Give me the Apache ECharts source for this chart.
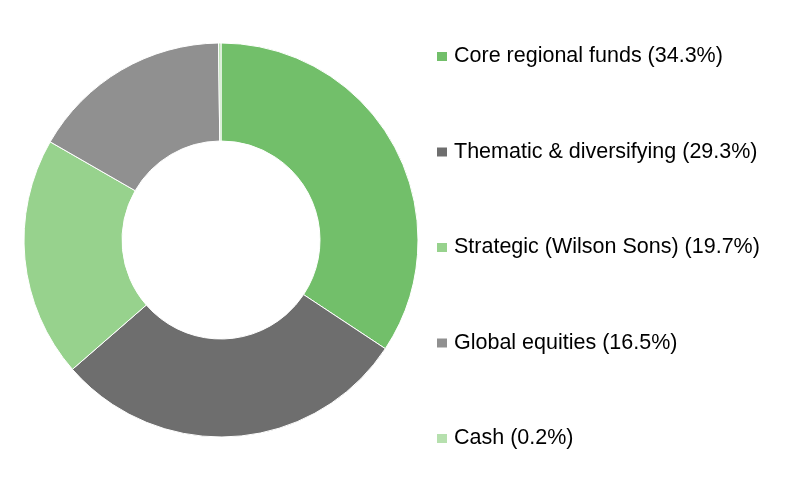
<!DOCTYPE html>
<html><head><meta charset="utf-8">
<script src="https://cdn.jsdelivr.net/npm/echarts@6/dist/echarts.min.js"></script>
<style>html,body{margin:0;padding:0;background:#fff}#c{width:800px;height:482px}</style>
</head><body><div id="c"></div>
<script>
const categories = ["Core regional funds (34.3%)", "Thematic & diversifying (29.3%)", "Strategic (Wilson Sons) (19.7%)", "Global equities (16.5%)", "Cash (0.2%)"];
const values = [34.3, 29.3, 19.7, 16.5, 0.2];
const colors = ["#72BF6A", "#6E6E6E", "#97D28D", "#909090", "#B6E0AE"];
const chart = echarts.init(document.getElementById('c'));
chart.setOption({
  animation: false,
  legend: {
    orient: 'vertical', left: 435, top: 45.5, padding: 0,
    itemWidth: 12, itemHeight: 11, itemGap: 73.5,
    icon: 'rect',
    textStyle: {fontFamily: 'Liberation Sans, Arial', fontSize: 21.5, color: '#000', padding: [0,0,0,1], lineHeight: 22},
    data: categories
  },
  series: [{
    type: 'pie', center: [221, 240], radius: [99, 197],
    startAngle: 90, clockwise: true,
    label: {show: false}, labelLine: {show: false},
    emphasis: {disabled: true},
    itemStyle: {borderColor: '#fff', borderWidth: 1},
    data: categories.map((c, i) => ({name: c, value: values[i], itemStyle: {color: colors[i]}}))
  }]
});
</script></body></html>
